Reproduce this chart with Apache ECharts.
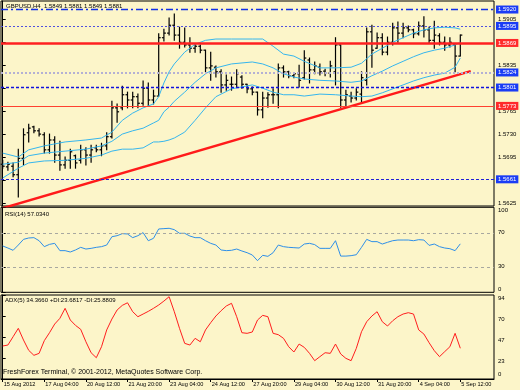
<!DOCTYPE html>
<html><head><meta charset="utf-8">
<script src="https://cdn.jsdelivr.net/npm/echarts@6/dist/echarts.min.js"></script>
<style>html,body{margin:0;padding:0;background:#FCF5C9}#c{width:520px;height:390px}</style>
</head><body><div id="c"></div>
<script>
// ---------------- DATA ----------------
const tickLabels = ['15 Aug 2012','17 Aug 04:00','20 Aug 12:00','21 Aug 20:00','23 Aug 04:00','24 Aug 12:00',
  '27 Aug 20:00','29 Aug 04:00','30 Aug 12:00','31 Aug 20:00','4 Sep 04:00','5 Sep 12:00'];
const tickIdx = [0,8,16,24,32,40,48,56,64,72,80,88];

const opens = [1.5684,1.5680,1.5681,1.5668,1.5693,1.5732,1.5741,1.5735,1.5729,1.5706,
 1.5721,1.5698,1.5683,1.5690,1.5697,1.5690,1.5706,1.5698,1.5709,1.5706,
 1.5712,1.5726,1.5770,1.5770,1.5790,1.5782,1.5787,1.5777,1.5800,1.5782,
 1.5788,1.5877,1.5884,1.5896,1.5881,1.5870,1.5866,1.5861,1.5864,1.5858,
 1.5831,1.5832,1.5825,1.5805,1.5806,1.5806,1.5817,1.5806,1.5799,1.5794,
 1.5767,1.5785,1.5790,1.5790,1.5831,1.5825,1.5819,1.5822,1.5816,1.5843,
 1.5828,1.5832,1.5826,1.5823,1.5825,1.5866,1.5782,1.5788,1.5785,1.5791,
 1.5812,1.5886,1.5861,1.5877,1.5855,1.5870,1.5892,1.5884,1.5892,1.5889,
 1.5883,1.5895,1.5889,1.5873,1.5880,1.5870,1.5866,1.5866,1.5849];
const highs = [1.5690,1.5687,1.5686,1.5707,1.5738,1.5745,1.5742,1.5738,1.5732,1.5730,
 1.5726,1.5719,1.5695,1.5707,1.5698,1.5713,1.5709,1.5713,1.5713,1.5716,
 1.5732,1.5780,1.5776,1.5803,1.5794,1.5794,1.5791,1.5811,1.5808,1.5797,
 1.5883,1.5890,1.5907,1.5913,1.5893,1.5892,1.5877,1.5867,1.5866,1.5858,
 1.5855,1.5834,1.5828,1.5820,1.5817,1.5828,1.5819,1.5806,1.5802,1.5794,
 1.5794,1.5793,1.5799,1.5837,1.5834,1.5826,1.5823,1.5835,1.5857,1.5846,
 1.5840,1.5837,1.5829,1.5841,1.5877,1.5866,1.5797,1.5794,1.5799,1.5825,
 1.5892,1.5896,1.5884,1.5883,1.5878,1.5899,1.5901,1.5899,1.5895,1.5890,
 1.5901,1.5909,1.5893,1.5902,1.5883,1.5878,1.5877,1.5866,1.5881];
const lows = [1.5678,1.5675,1.5665,1.5634,1.5683,1.5718,1.5732,1.5727,1.5701,1.5701,
 1.5687,1.5675,1.5678,1.5678,1.5678,1.5686,1.5683,1.5687,1.5703,1.5697,
 1.5706,1.5724,1.5748,1.5767,1.5770,1.5770,1.5770,1.5774,1.5773,1.5776,
 1.5788,1.5872,1.5881,1.5873,1.5861,1.5863,1.5855,1.5855,1.5854,1.5825,
 1.5812,1.5817,1.5794,1.5797,1.5797,1.5802,1.5800,1.5793,1.5790,1.5759,
 1.5755,1.5771,1.5777,1.5770,1.5817,1.5816,1.5816,1.5802,1.5814,1.5808,
 1.5822,1.5820,1.5819,1.5817,1.5805,1.5771,1.5771,1.5779,1.5782,1.5777,
 1.5805,1.5832,1.5861,1.5851,1.5851,1.5866,1.5870,1.5877,1.5886,1.5877,
 1.5881,1.5878,1.5869,1.5861,1.5866,1.5858,1.5863,1.5825,1.5849];
const closes = [1.5681,1.5684,1.5668,1.5693,1.5729,1.5739,1.5735,1.5730,1.5706,1.5721,
 1.5698,1.5683,1.5690,1.5703,1.5686,1.5706,1.5698,1.5706,1.5706,1.5712,
 1.5726,1.5770,1.5764,1.5790,1.5782,1.5787,1.5777,1.5800,1.5782,1.5788,
 1.5877,1.5884,1.5896,1.5881,1.5870,1.5866,1.5861,1.5864,1.5858,1.5831,
 1.5834,1.5825,1.5805,1.5812,1.5806,1.5822,1.5806,1.5799,1.5794,1.5767,
 1.5785,1.5790,1.5790,1.5831,1.5825,1.5819,1.5822,1.5812,1.5846,1.5828,
 1.5834,1.5825,1.5823,1.5834,1.5866,1.5782,1.5790,1.5785,1.5794,1.5816,
 1.5886,1.5858,1.5877,1.5855,1.5870,1.5892,1.5884,1.5892,1.5889,1.5883,
 1.5895,1.5889,1.5873,1.5881,1.5870,1.5866,1.5870,1.5849,1.5881];

const bandIdx = [0,3,5,8,12,16,19,21,23,25,27,29,30,31,32,33,35,37,39,41,
 44,48,50,52,54,56,58,61,64,67,69,71,73,75,77,79,81,83,85,87,88];
const bandUpper = [1.5701,1.5695,1.5706,1.5712,1.5718,1.5721,1.5724,1.5733,1.5751,1.5762,
 1.5770,1.5776,1.5787,1.5808,1.5825,1.5837,1.5855,1.5867,1.5873,1.5875,
 1.5875,1.5875,1.5875,1.5864,1.5852,1.5849,1.5841,1.5831,1.5831,1.5832,
 1.5838,1.5852,1.5861,1.5870,1.5877,1.5884,1.5889,1.5892,1.5893,1.5892,1.5890];
const bandMiddle = [1.5684,1.5687,1.5697,1.5701,1.5704,1.5707,1.5712,1.5719,1.5730,1.5735,
 1.5739,1.5747,1.5751,1.5764,1.5771,1.5780,1.5794,1.5809,1.5822,1.5831,
 1.5837,1.5840,1.5837,1.5831,1.5822,1.5817,1.5814,1.5812,1.5811,1.5809,
 1.5811,1.5819,1.5826,1.5834,1.5841,1.5848,1.5854,1.5858,1.5861,1.5866,1.5870];
const bandLower = [1.5663,1.5678,1.5686,1.5689,1.5690,1.5693,1.5698,1.5704,1.5707,1.5707,
 1.5709,1.5718,1.5718,1.5719,1.5721,1.5724,1.5733,1.5751,1.5770,1.5787,
 1.5799,1.5805,1.5800,1.5794,1.5790,1.5790,1.5788,1.5791,1.5790,1.5788,
 1.5787,1.5788,1.5793,1.5799,1.5805,1.5811,1.5816,1.5820,1.5823,1.5832,1.5846];

const trendIdx = [0, 90];
const trendVal = [1.5617, 1.5826];

const levels = [1.5920, 1.5895, 1.5869, 1.5824, 1.5801, 1.5773, 1.5661];
const bidPrice = 1.5880;
const priceTicks = [1.5625,1.5660,1.5695,1.5730,1.5765,1.5800,1.5835,1.5870,1.5905];

const rsi = [54.5,52.1,49.4,55.6,62.3,63.9,64.3,60.7,53.7,56.4,
 57.6,49.0,49.0,47.4,49.8,52.9,50.9,51.7,52.9,53.7,
 55.6,65.4,66.6,69.0,68.6,64.3,66.6,70.2,60.7,63.5,
 74.5,74.9,75.3,73.7,69.4,69.4,66.2,64.3,64.3,60.7,
 57.6,55.6,49.8,49.0,49.4,50.9,48.6,46.6,43.9,37.2,
 43.5,42.3,46.6,55.6,53.7,52.9,52.5,52.1,56.8,57.6,
 56.1,51.7,51.7,51.7,60.7,42.6,42.6,43.1,44.2,52.9,
 62.3,59.6,59.6,56.8,58.8,60.7,61.5,61.5,61.5,60.7,
 61.9,61.5,55.2,56.8,53.7,52.1,51.3,49.0,57.0];
const rsiLevels = [70, 30];
const rsiTicks = [0, 30, 70, 100];
const rsiLast = '57.0340';

const adx = [36.9,38.0,47.3,56.7,43.6,32.1,26.5,28.7,42.9,51.8,
 61.5,67.9,79.1,66.0,60.0,55.6,41.7,29.4,23.8,36.1,
 54.9,67.1,77.2,82.4,85.3,75.3,69.7,72.7,75.7,79.1,
 82.8,87.2,92.1,75.3,56.7,39.9,38.0,45.5,41.7,54.9,
 63.0,70.5,76.4,81.7,84.7,69.7,51.8,51.1,52.6,66.0,
 71.2,69.7,51.1,49.6,45.5,36.1,30.2,39.1,35.4,28.7,
 20.5,25.0,29.4,28.7,39.1,28.0,23.1,20.5,34.3,52.9,
 64.1,70.5,75.3,64.1,59.3,65.2,69.7,72.7,74.2,72.7,
 54.9,50.3,40.6,31.7,25.0,30.6,36.1,51.1,34.4];
const adxTicks = [0, 23.5, 47, 70.5, 94];
const adxLabelTicks = [23.5, 47, 70.5, 94];
const adxMinLabel = '0';
const adxLast = '34.3660', plusDI = '23.6817', minusDI = '25.8809';

// ---------------- STYLE / LAYOUT ----------------
const FONT = 'Liberation Sans, Arial, sans-serif';
const BG = '#FCF5C9';
const X_MIN = -0.327, X_MAX = 94.48;
const levelStyles = [
  {line:{color:'#1030E8',width:1.4,type:[7,3,2,3]}, box:'#1A3CF5'},
  {line:{color:'#5050E0',width:1,type:[2,2]}, box:'#1A3CF5'},
  {line:{color:'#FF2020',width:2.5,type:'solid'}, box:'#FF2A2A'},
  {line:{color:'#B4B0D4',width:2,type:[2,2]}, box:'#1A3CF5'},
  {line:{color:'#1010E0',width:1.4,type:[3,2]}, box:'#1A3CF5'},
  {line:{color:'#FF4030',width:1,type:'solid'}, box:'#FF2A2A'},
  {line:{color:'#2020D8',width:1,type:[3,2]}, box:'#1A3CF5'}
];
const boxLabel = (txt, bg) => ({show:true, position:'end', distance:2, formatter:txt,
  backgroundColor:bg, color:'#fff', fontSize:6, fontFamily:FONT, padding:[1,2,0,2], lineHeight:7});

const chart = echarts.init(document.getElementById('c'), null, {renderer:'canvas'});

const markData = levels.map((v,k)=>({yAxis:v, lineStyle:levelStyles[k].line,
  label:boxLabel(v.toFixed(4), levelStyles[k].box)}));
markData.push({yAxis:bidPrice, lineStyle:{opacity:0,width:0}, label:boxLabel(bidPrice.toFixed(4),'#000')});

const last = opens.length-1;
const gridBase = {left:1, right:26, show:true, borderColor:'#000', borderWidth:1, backgroundColor:'transparent', outerBoundsMode:'none'};
const hiddenX = (g)=>({gridIndex:g, type:'value', min:X_MIN, max:X_MAX, show:false});
const txt = (text, left, top, size) => ({text, left, top, padding:0,
  textStyle:{fontSize:size||6, fontWeight:'normal', color:'#000', fontFamily:FONT}});

const option = {
  animation:false,
  backgroundColor:BG,
  title:[
    txt(`GBPUSD,H4  ${opens[last].toFixed(4)} ${highs[last].toFixed(4)} ${lows[last].toFixed(4)} ${closes[last].toFixed(4)}`, 6, 3),
    txt(`RSI(14) ${rsiLast}`, 5, 211),
    txt(`ADX(5) ${adxLast} +DI:${plusDI} -DI:${minusDI}`, 5, 297),
    txt('FreshForex Terminal, \u00A9 2001-2012, MetaQuotes Software Corp.', 3, 369, 7),
    txt(adxMinLabel, 498, 371)
  ],
  grid:[
    Object.assign({}, gridBase, {top:1, height:205}),
    Object.assign({}, gridBase, {top:207.3, height:85}),
    Object.assign({}, gridBase, {top:295, height:84}),
    {left:1, right:26, top:378, height:1, show:false, outerBoundsMode:'none'}
  ],
  xAxis:[
    hiddenX(0), hiddenX(1), hiddenX(2),
    {gridIndex:3, type:'value', min:X_MIN, max:X_MAX, splitLine:{show:false},
     axisLine:{show:true, lineStyle:{color:'#000'}},
     axisTick:{show:true, customValues:tickIdx, length:3, lineStyle:{color:'#000'}},
     axisLabel:{customValues:tickIdx, formatter:(v)=>tickLabels[tickIdx.indexOf(Math.round(v))]||'',
       align:'left', margin:2, fontSize:5.6, color:'#000', fontFamily:FONT, padding:[0,0,0,1]}}
  ],
  yAxis:[
    {gridIndex:0, type:'value', position:'right', min:1.56203, max:1.59330, splitLine:{show:false},
     axisLine:{show:true, lineStyle:{color:'#000'}},
     axisTick:{show:true, customValues:priceTicks, length:3, lineStyle:{color:'#000'}},
     axisLabel:{customValues:priceTicks, formatter:(v)=>v.toFixed(4), fontSize:6, color:'#000', fontFamily:FONT, margin:4}},
    {gridIndex:1, type:'value', position:'right', min:0, max:100, splitLine:{show:false},
     axisLine:{show:true, lineStyle:{color:'#000'}},
     axisTick:{show:true, customValues:rsiTicks, length:3, lineStyle:{color:'#000'}},
     axisLabel:{customValues:rsiTicks, fontSize:6, color:'#000', fontFamily:FONT, margin:4,
       showMinLabel:true, showMaxLabel:true,
       verticalAlignMinLabel:'bottom', verticalAlignMaxLabel:'top'}},
    {gridIndex:2, type:'value', position:'right', min:0, max:94, splitLine:{show:false},
     axisLine:{show:true, lineStyle:{color:'#000'}},
     axisTick:{show:true, customValues:adxTicks, length:3, lineStyle:{color:'#000'}},
     axisLabel:{customValues:adxLabelTicks, formatter:(v)=>String(Math.floor(v)), fontSize:6, color:'#000', fontFamily:FONT, margin:4,
       showMaxLabel:true, verticalAlign:'top'}},
    {gridIndex:3, type:'value', show:false}
  ],
  series:[
    {type:'line', name:'trend', xAxisIndex:0, yAxisIndex:0, symbol:'none', clip:true,
     data:trendIdx.map((x,k)=>[x,trendVal[k]]), lineStyle:{color:'#FF1A1A', width:2.5},
     markLine:{silent:true, precision:4, symbol:['none','none'], animation:false, data:markData}},
    {type:'line', name:'upper', xAxisIndex:0, yAxisIndex:0, symbol:'none',
     data:bandIdx.map((x,k)=>[x,bandUpper[k]]), lineStyle:{color:'#35B6EE', width:1}},
    {type:'line', name:'middle', xAxisIndex:0, yAxisIndex:0, symbol:'none',
     data:bandIdx.map((x,k)=>[x,bandMiddle[k]]), lineStyle:{color:'#35B6EE', width:1}},
    {type:'line', name:'lower', xAxisIndex:0, yAxisIndex:0, symbol:'none',
     data:bandIdx.map((x,k)=>[x,bandLower[k]]), lineStyle:{color:'#35B6EE', width:1}},
    {type:'custom', name:'bars', xAxisIndex:0, yAxisIndex:0,
     data:opens.map((o,i)=>[i,o,highs[i],lows[i],closes[i]]),
     encode:{x:0, y:[1,2,3,4]},
     renderItem:(params, api)=>{
       const i = api.value(0);
       const po = api.coord([i, api.value(1)]);
       const ph = api.coord([i, api.value(2)]);
       const pl = api.coord([i, api.value(3)]);
       const pc = api.coord([i, api.value(4)]);
       const x = po[0];
       const st = {stroke:'#000', lineWidth:1.2};
       return {type:'group', children:[
         {type:'line', shape:{x1:x, y1:ph[1]-0.5, x2:x, y2:pl[1]+0.5}, style:st},
         {type:'line', shape:{x1:x-2, y1:po[1], x2:x, y2:po[1]}, style:st},
         {type:'line', shape:{x1:x, y1:pc[1], x2:x+2, y2:pc[1]}, style:st}
       ]};
     }},
    {type:'line', name:'RSI', xAxisIndex:1, yAxisIndex:1, symbol:'none',
     data:rsi.map((v,i)=>[i,v]), lineStyle:{color:'#2E8FE8', width:1},
     markLine:{silent:true, symbol:['none','none'], label:{show:false},
       lineStyle:{color:'#A8A8A0', type:[3,3], width:1},
       data:rsiLevels.map(v=>({yAxis:v}))}},
    {type:'line', name:'ADX', xAxisIndex:2, yAxisIndex:2, symbol:'none',
     data:adx.map((v,i)=>[i,v]), lineStyle:{color:'#FF1E1E', width:1}}
  ]
};
chart.setOption(option);
</script>
</body></html>
